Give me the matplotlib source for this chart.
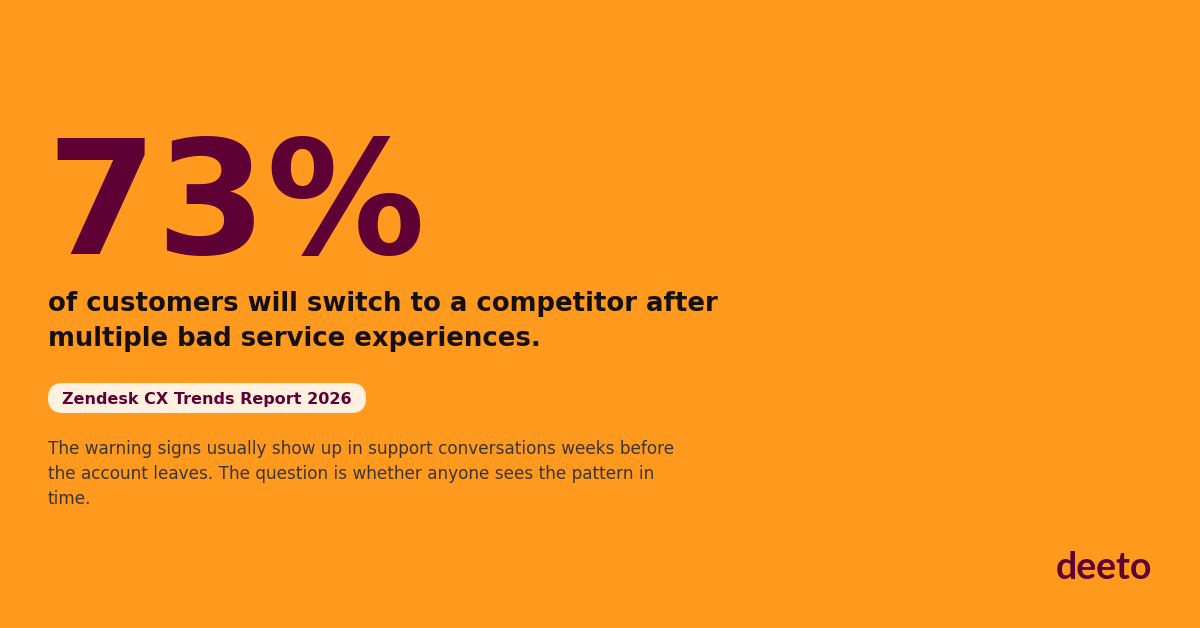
import matplotlib
matplotlib.use("Agg")
import matplotlib.pyplot as plt
from matplotlib.patches import FancyBboxPatch

# content
stat_value = "73%"
headline_lines = ["of customers will switch to a competitor after",
                  "multiple bad service experiences."]
source_label = "Zendesk CX Trends Report 2026"
body_lines = ["The warning signs usually show up in support conversations weeks before",
              "the account leaves. The question is whether anyone sees the pattern in",
              "time."]
brand = "deeto"

# colours
bg = "#FF9A1F"
maroon = "#5F0035"
pill_fill = "#FFF0DF"
dark = "#151010"
body_col = "#3A3532"

fig = plt.figure(figsize=(12, 6.28), dpi=100)
fig.patch.set_facecolor(bg)
ax = fig.add_axes([0, 0, 1, 1])
ax.set_xlim(0, 1200)
ax.set_ylim(628, 0)
ax.axis("off")

# big number
ax.text(46, 254, stat_value, fontsize=114, fontweight="bold", color=maroon,
        family="DejaVu Sans", va="baseline", ha="left")

# headline
for i, line in enumerate(headline_lines):
    ax.text(48, 311 + i * 35, line, fontsize=18.7, fontweight="bold", color=dark,
            family="DejaVu Sans", va="baseline", ha="left")

# source pill
ax.add_patch(FancyBboxPatch((48, 383), 318, 30, boxstyle="round,pad=0,rounding_size=15",
                            fc=pill_fill, ec="none"))
ax.text(62, 404, source_label, fontsize=11.5, fontweight="bold", color=maroon,
        family="DejaVu Sans", va="baseline", ha="left")

# body text
for i, line in enumerate(body_lines):
    ax.text(48, 454 + i * 25, line, fontsize=12.2, color=body_col,
            family="DejaVu Sans", va="baseline", ha="left")

# logo
ax.text(1056, 579, brand, fontsize=27, fontweight="bold", color=maroon,
        family="Lato", va="baseline", ha="left")

fig.savefig("out.png", dpi=100, facecolor=bg)
